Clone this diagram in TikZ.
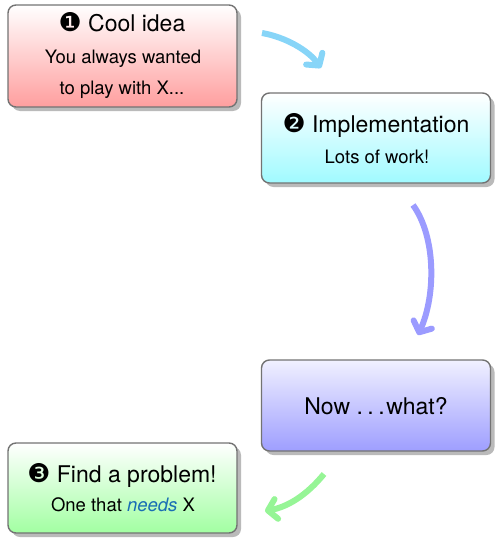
\documentclass[tikz,border=0pt]{standalone}
\usepackage{fontspec}
\setmainfont{TeX Gyre Heros}
\newfontfamily\dingfont{DejaVu Sans}[Scale=1.12]
\usetikzlibrary{arrows.meta,shadows}
\definecolor{boxred}{RGB}{255,158,158}
\definecolor{boxcyan}{RGB}{160,250,255}
\definecolor{boxblue}{RGB}{158,158,255}
\definecolor{boxgreen}{RGB}{162,255,162}
\definecolor{arrblue}{RGB}{135,213,248}
\definecolor{arrviolet}{RGB}{155,155,255}
\definecolor{arrgreen}{RGB}{150,245,150}
\definecolor{needblue}{RGB}{25,110,180}
\newcommand{\titlesize}{\fontsize{23}{27}\selectfont}
\newcommand{\bodysize}{\fontsize{18.5}{22}\selectfont}
\newcommand{\spdots}{.\hspace{0.2em}.\hspace{0.2em}.\hspace{0.06em}}
\begin{document}
\begin{tikzpicture}[x=1pt,y=-1pt,
  box/.style={draw=black!55, line width=1.4pt, rounded corners=8pt,
    inner sep=0pt, outer sep=0pt,
    drop shadow={shadow xshift=4pt, shadow yshift=-4pt, fill=black!27, opacity=1}},
  wide/.style={minimum width=229pt},
  ttl/.style={anchor=base, inner sep=0pt, font=\titlesize},
  bdy/.style={anchor=base, inner sep=0pt, font=\bodysize},
  arr/.style={line width=6pt, line cap=butt,
    -{Straight Barb[length=8.5pt,width=20pt,round]}}]
\useasboundingbox (0,0) rectangle (495,538);

% boxes
\node[box, wide, minimum height=102pt, top color=white, bottom color=boxred] (idea) at (122.5,56) {};
\node[box, wide, minimum height=90pt, top color=white, bottom color=boxcyan] (impl) at (376,138) {};
\node[box, wide, minimum height=91pt, top color=white!85!boxblue, bottom color=boxblue] (now) at (376,405.5) {};
\node[box, wide, minimum height=90pt, top color=white, bottom color=boxgreen] (find) at (122.5,488) {};

% texts
\node[ttl] (ideaT) at (122,31) {{\dingfont ❶} Cool idea};
\node[bdy] (ideaA) at (123,63.3) {You always wanted};
\node[bdy] (ideaB) at (122,94) {to play with X...};

\node[ttl] (implT) at (376,132) {{\dingfont ❷} Implementation};
\node[bdy] (implA) at (377,163.3) {Lots of work!};

\node[ttl] (nowT) at (376,414.3) {Now \spdots what?};

\node[ttl] (findT) at (122,482.7) {{\dingfont ❸} Find a problem!};
\node[bdy] (findA) at (123,511.7) {One that \textcolor{needblue}{\itshape needs} X};

% arrows
\coordinate (a1s) at (262,33);
\coordinate (a1e) at (321,68);
\coordinate (a2s) at (413,205);
\coordinate (a2e) at (418,335);
\coordinate (a3s) at (324,474);
\coordinate (a3e) at (265,511);
\draw[arr, arrblue] (a1s) .. controls (285,37) and (308,50) .. (a1e);
\draw[arr, arrviolet] (a2s) .. controls (436,237) and (436,295) .. (a2e);
\draw[arr, arrgreen] (a3s) .. controls (306,496) and (287,507) .. (a3e);
\end{tikzpicture}
\end{document}
